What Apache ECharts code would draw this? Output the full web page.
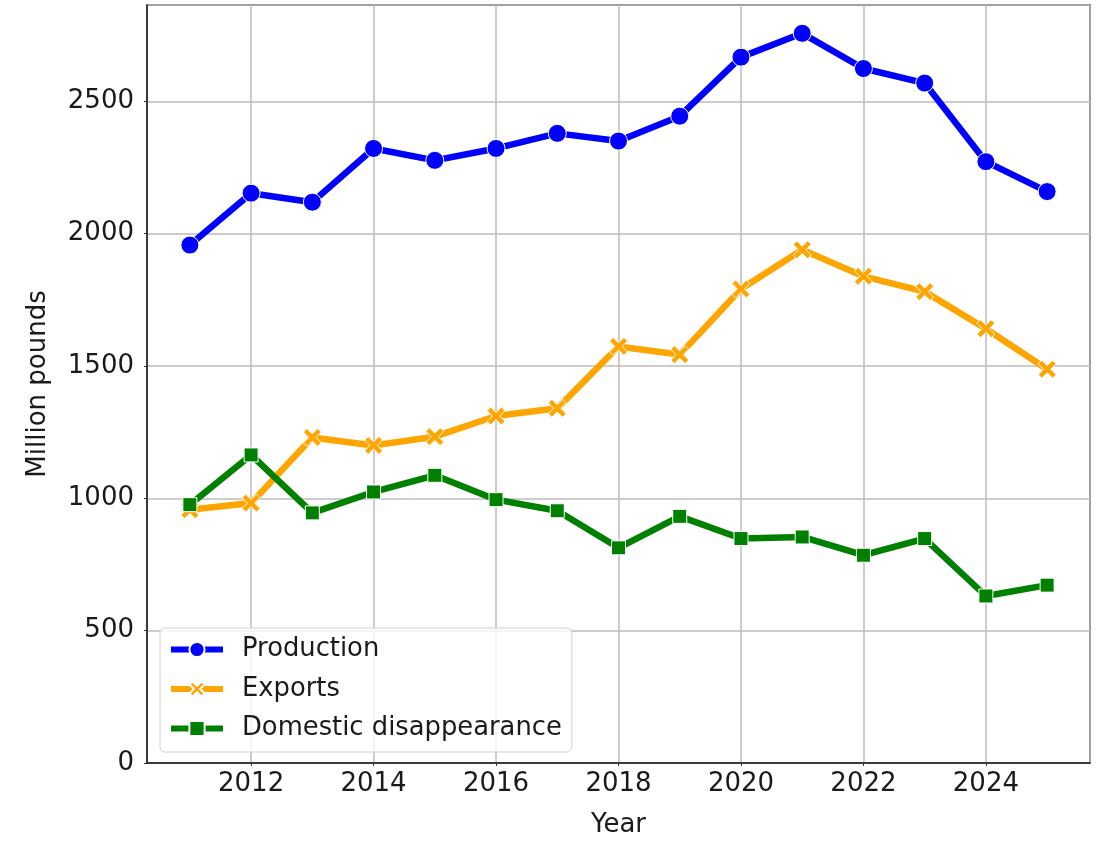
<!DOCTYPE html>
<html>
<head>
<meta charset="utf-8">
<script src="https://cdn.jsdelivr.net/npm/echarts@6/dist/echarts.min.js"></script>
<style>
  html, body { margin: 0; padding: 0; background: #fff; }
  #chart { width: 1102px; height: 843px; }
</style>
</head>
<body>
<div id="chart"></div>
<script>
// values (million pounds)
const years = [2011, 2012, 2013, 2014, 2015, 2016, 2017, 2018, 2019, 2020, 2021, 2022, 2023, 2024, 2025];
const production = [1957, 2153, 2119, 2322, 2277, 2322, 2379, 2350, 2444, 2667, 2757, 2624, 2569, 2272, 2159];
const exportsVals = [957, 982, 1230, 1200, 1233, 1311, 1340, 1574, 1543, 1791, 1939, 1839, 1781, 1641, 1488];
const domestic = [976, 1164, 945, 1024, 1087, 995, 953, 813, 932, 848, 854, 785, 848, 631, 672];
const seriesNames = ["Production", "Exports", "Domestic disappearance"];

const FONT = "DejaVu Sans";
const xMarker = "path://M0,2 L2,0 L5,3 L8,0 L10,2 L7,5 L10,8 L8,10 L5,7 L2,10 L0,8 L3,5 Z";

function pairs(vals) {
  return years.map((y, i) => [y, vals[i]]);
}

function lineSeries(name, vals, color, symbol, size) {
  return {
    name: name,
    type: "line",
    data: pairs(vals),
    symbol: symbol,
    symbolSize: size,
    showAllSymbol: true,
    lineStyle: { color: color, width: 6.5 },
    itemStyle: { color: color, borderColor: "#fff", borderWidth: 1 },
    emphasis: { disabled: true },
    animation: false,
  };
}

const chart = echarts.init(document.getElementById("chart"));
chart.setOption({
  backgroundColor: "#fff",
  textStyle: { fontFamily: FONT },
  grid: {
    left: 147,
    right: 12,
    top: 5,
    bottom: 77,
    show: true,
    borderColor: "#1a1a1a",
    borderWidth: 1.5,
    containLabel: false,
  },
  legend: {
    orient: "vertical",
    left: 160,
    top: 628,
    padding: [8, 10, 10, 8],
    itemWidth: 52,
    itemHeight: 19,
    itemGap: 12.5,
    backgroundColor: "rgba(255,255,255,0.8)",
    borderColor: "#d0d0d0",
    borderWidth: 1,
    borderRadius: 5,
    data: seriesNames,
    lineStyle: { width: 6 },
    textStyle: {
      fontFamily: FONT,
      fontSize: 25.8,
      lineHeight: 27,
      color: "#1a1a1a",
      padding: [0, 0, 0, 14],
    },
  },
  xAxis: {
    type: "value",
    min: 2010.3,
    max: 2025.7,
    splitNumber: 8,
    minInterval: 2,
    maxInterval: 2,
    name: "Year",
    nameLocation: "middle",
    nameGap: 49,
    nameTextStyle: { fontFamily: FONT, fontSize: 26, color: "#1a1a1a" },
    axisLine: { show: true, onZero: false, lineStyle: { color: "#1a1a1a", width: 1.5 } },
    axisTick: { show: true, length: 3, lineStyle: { color: "#333" } },
    axisLabel: {
      showMinLabel: false,
      showMaxLabel: false,
      margin: 8,
      fontFamily: FONT,
      fontSize: 26,
      color: "#1a1a1a",
      formatter: (v) => String(v),
    },
    splitLine: { show: true, lineStyle: { color: "#bdbdbd", width: 1.5 } },
  },
  yAxis: {
    type: "value",
    min: 0,
    max: 2864,
    interval: 500,
    name: "Million pounds",
    nameLocation: "middle",
    nameGap: 96,
    nameRotate: 90,
    nameTextStyle: { fontFamily: FONT, fontSize: 26, color: "#1a1a1a" },
    axisLine: { show: true, lineStyle: { color: "#1a1a1a", width: 1.5 } },
    axisTick: { show: true, length: 3, lineStyle: { color: "#333" } },
    axisLabel: {
      showMaxLabel: false,
      margin: 13,
      fontFamily: FONT,
      fontSize: 26,
      color: "#1a1a1a",
      formatter: (v) => String(v),
    },
    splitLine: { show: true, lineStyle: { color: "#bdbdbd", width: 1.5 } },
  },
  series: [
    lineSeries(seriesNames[0], production, "#0000ff", "circle", 18),
    lineSeries(seriesNames[1], exportsVals, "#ffa500", xMarker, 18),
    lineSeries(seriesNames[2], domestic, "#008000", "rect", 14),
  ],
});
</script>
</body>
</html>
